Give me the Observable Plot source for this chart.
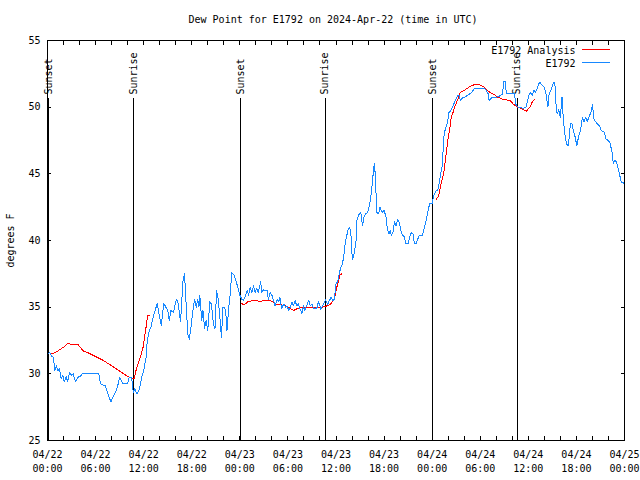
<!DOCTYPE html>
<html><head><meta charset="utf-8">
<script src="https://cdn.jsdelivr.net/npm/d3@7"></script>
<script src="https://cdn.jsdelivr.net/npm/@observablehq/plot@0.6"></script>
<style>body{margin:0;background:#fff} svg{display:block}</style>
</head><body><div id="chart"></div>
<script>
// Hours since 2024-04-22 00:00 UTC
const obsHours = [0.0,0.25,0.55,0.75,0.9,1.1,1.3,1.5,1.7,1.9,2.1,2.35,2.5,2.75,3.0,3.2,3.5,3.8,4.1,4.4,6.4,6.6,7.2,7.5,7.9,8.2,8.6,8.8,9.0,9.4,10.0,10.2,10.5,10.7,10.9,11.05,11.2,11.45,11.6,11.75,12.0,12.3,12.45,12.7,12.9,13.1,13.3,13.7,13.9,14.2,14.5,15.0,15.2,15.4,15.7,16.1,16.3,16.6,16.9,17.1,17.25,17.5,17.7,17.9,18.2,18.35,18.55,18.75,18.9,19.0,19.25,19.4,19.6,19.8,20.0,20.25,20.45,20.7,20.9,21.1,21.3,21.5,21.7,21.9,22.1,22.25,22.4,22.6,22.8,23.0,23.3,23.7,24.0,24.25,24.45,24.65,24.9,25.1,25.3,25.5,25.7,25.9,26.1,26.3,26.6,26.75,26.95,27.4,27.55,27.8,28.0,28.2,28.4,28.7,28.85,29.0,29.2,29.5,29.7,29.9,30.1,30.3,30.5,30.7,30.9,31.1,31.3,31.5,31.75,31.95,32.1,32.6,32.8,33.0,33.2,33.6,33.8,34.0,34.1,34.3,34.5,34.7,34.95,35.1,35.4,35.6,35.8,36.0,36.2,36.4,36.6,36.8,37.0,37.1,37.25,37.5,37.7,37.85,38.0,38.1,38.3,38.5,38.6,38.9,39.1,39.3,39.5,39.7,39.95,40.2,40.4,40.6,40.7,40.8,40.9,41.0,41.1,41.3,41.5,41.75,42.0,42.25,42.4,42.6,42.75,42.9,43.1,43.3,43.5,43.7,43.9,44.1,44.3,44.5,44.75,45.0,45.2,45.4,45.6,45.8,46.0,46.2,46.4,46.8,47.0,47.25,47.5,47.7,48.0,48.2,48.5,48.7,48.9,49.1,49.25,49.4,49.5,49.75,49.9,50.1,50.3,50.6,50.9,51.2,51.4,51.5,51.8,52.1,52.45,52.9,53.3,54.5,54.7,55.0,55.1,55.4,56.0,56.3,56.8,56.9,57.15,57.25,58.3,58.4,58.7,59.0,59.3,59.7,59.9,60.1,60.3,60.5,60.7,60.9,61.1,61.3,61.45,61.6,61.8,62.0,62.2,62.45,62.55,62.7,62.95,63.2,63.35,63.45,63.6,63.8,64.0,64.2,64.35,64.55,64.75,65.0,65.25,65.45,65.6,65.85,66.05,66.3,66.5,66.75,66.95,67.15,67.35,67.55,67.8,68.0,68.2,68.4,68.6,68.9,69.1,69.5,69.7,70.0,70.2,70.45,70.6,70.8,71.0,71.2,71.4,71.6,71.9];
const obsValues = [31.45,31.6,31.3,31.25,30.25,30.6,30.2,30.4,29.6,29.9,29.4,29.8,29.4,30.1,29.9,30.0,29.4,29.75,29.8,30.05,30.05,29.25,29.1,28.6,27.9,28.3,28.75,29.2,29.75,29.25,29.25,29.75,29.75,28.6,28.9,28.6,28.5,28.85,29.25,29.75,30.25,31.25,32.5,33.25,33.5,34.0,34.5,35.3,34.5,33.6,35.3,34.75,34.0,34.75,34.6,35.6,35.3,33.9,36.9,37.5,35.75,33.0,32.6,33.5,35.0,35.6,35.0,35.6,35.0,35.9,34.0,34.75,33.4,34.0,33.25,35.4,35.25,33.75,33.4,36.25,35.6,34.3,32.75,35.0,35.0,34.6,33.25,34.9,36.0,37.6,37.4,36.6,35.9,35.6,35.5,35.75,36.25,35.9,36.5,36.1,36.6,36.1,36.4,36.1,36.9,36.1,36.3,36.25,35.6,36.1,35.9,35.5,35.1,35.6,35.4,35.75,34.9,35.25,35.0,35.1,34.75,35.0,35.4,35.1,35.5,35.1,35.25,34.9,34.5,35.1,34.75,35.5,35.1,35.25,34.9,34.9,35.4,35.1,34.8,35.1,35.3,35.55,35.2,35.4,35.75,35.5,35.6,36.75,36.9,37.5,38.0,38.2,39.0,39.6,40.1,40.8,40.95,40.6,39.0,38.6,39.1,40.0,41.5,42.0,42.1,41.1,41.75,42.0,42.1,42.75,43.5,44.75,45.4,45.75,44.9,43.5,42.1,42.0,42.5,42.1,42.25,41.75,40.9,40.5,40.75,40.4,40.6,41.4,41.1,41.6,41.3,40.75,40.4,40.3,39.75,39.75,40.25,40.6,40.5,39.75,39.75,40.1,40.4,40.4,40.9,41.5,42.25,42.8,42.8,43.4,43.75,43.75,44.4,45.1,45.6,47.1,48.0,48.6,48.8,49.6,49.7,50.1,50.5,50.9,50.9,50.5,50.7,50.75,50.9,51.1,51.4,51.4,51.3,51.0,50.5,50.7,50.75,50.8,51.0,51.9,51.9,51.0,51.0,50.25,50.0,50.0,49.9,50.0,50.5,50.95,51.1,50.9,51.25,51.1,51.4,51.75,51.9,51.7,51.6,51.5,51.0,50.0,50.9,51.1,51.5,51.9,51.5,50.25,49.5,49.8,49.25,50.75,49.25,48.0,47.25,47.1,48.75,48.75,48.25,47.75,47.1,47.9,48.2,49.25,48.9,49.25,48.9,49.25,49.6,50.2,49.1,48.9,48.75,48.6,48.25,48.1,47.6,47.5,47.3,46.6,45.75,46.0,45.9,45.4,44.9,44.4,44.3];

// Analysis (null = gap between analysis runs)
const anaHours = [0.4,1.0,1.5,2.0,2.5,3.8,4.5,5.0,6.0,7.0,8.0,9.0,10.0,10.8,11.1,11.5,11.9,12.3,12.5,12.75,18,24.25,24.6,25.0,25.7,26.5,27.5,28.0,28.4,29.0,29.7,30.3,30.7,31.2,31.6,32.4,33.5,34.3,34.9,35.3,35.8,36.1,36.25,36.5,36.75,42,48.5,48.8,49.1,49.45,49.75,49.95,50.2,50.4,50.6,50.8,51.2,51.5,52.0,52.7,53.3,53.9,54.5,55.2,55.6,56.2,56.8,57.7,58.1,58.6,59.1,59.75,60.2,60.5,60.8];
const anaValues = [31.5,31.6,31.8,32.0,32.25,32.2,31.7,31.6,31.3,31.0,30.6,30.2,29.8,29.6,30.4,31.1,31.9,33.5,34.4,34.4,null,35.25,35.2,35.4,35.5,35.45,35.5,35.45,35.25,35.2,35.1,34.9,34.75,34.9,35.0,34.95,34.95,35.0,35.1,35.2,35.6,36.5,36.8,37.45,37.5,null,43.1,43.3,44.25,45.1,46.5,47.5,48.4,49.3,49.6,50.0,50.6,51.1,51.25,51.55,51.7,51.7,51.5,51.1,51.0,50.75,50.6,50.5,50.25,50.0,49.9,49.7,50.0,50.4,50.6];

const sunHours = [0.15,10.75,24.12,34.65,48.05,58.62];
const sunLabels = ["Sunset","Sunrise","Sunset","Sunrise","Sunset","Sunrise"];

const xTickHours = [0,6,12,18,24,30,36,42,48,54,60,66,72];
const xTickLabels = ["04/22\n00:00","04/22\n06:00","04/22\n12:00","04/22\n18:00","04/23\n00:00","04/23\n06:00","04/23\n12:00","04/23\n18:00","04/24\n00:00","04/24\n06:00","04/24\n12:00","04/24\n18:00","04/25\n00:00"];
const xMinorHours = d3.range(0, 73, 2);
const yTicks = [25,30,35,40,45,50,55];

const titleText = "Dew Point for E1792 on 2024-Apr-22 (time in UTC)";
const yLabel = "degrees F";
const seriesNames = ["E1792 Analysis","E1792"];
const seriesColors = ["#ff0000","#1788ff"];

const t0 = Date.UTC(2024, 3, 22);
const toDate = h => new Date(t0 + h * 3600000);

const obs = obsHours.map((h, i) => ({t: toDate(h), v: obsValues[i]}));
const ana = anaHours.map((h, i) => ({t: toDate(h), v: anaValues[i]}));
const sun = sunHours.map((h, i) => ({t: toDate(h), label: sunLabels[i]}));

const font = "DejaVu Sans Mono";
const txt = {fill: "black", fontSize: 10, fontFamily: font, lineAnchor: "middle"};

const chart = Plot.plot({
  width: 640, height: 480,
  marginLeft: 47, marginRight: 16, marginTop: 40, marginBottom: 40,
  style: {fontFamily: font, fontSize: "10px", background: "white", color: "black", shapeRendering: "crispEdges"},
  x: {type: "utc", domain: [toDate(0), toDate(72)]},
  y: {domain: [25, 55]},
  marks: [
    Plot.ruleX(sun, {x: "t", insetTop: 58, stroke: "black", strokeWidth: 1}),
    Plot.text(sun, {x: "t", text: "label", frameAnchor: "top", dy: 54, rotate: -90, textAnchor: "start", ...txt}),
    Plot.line(ana, {x: "t", y: "v", stroke: seriesColors[0], strokeWidth: 1}),
    Plot.line(obs, {x: "t", y: "v", stroke: seriesColors[1], strokeWidth: 1}),
    Plot.frame({stroke: "black", strokeWidth: 1}),
    Plot.axisY({ticks: yTicks, tickSize: 0, tickPadding: 7, label: null, fontSize: 10}),
    Plot.axisY({anchor: "left", ticks: yTicks, tickSize: -4, fill: "none", label: null}),
    Plot.axisY({anchor: "right", ticks: yTicks, tickSize: -4, fill: "none", label: null}),
    Plot.axisX({ticks: xTickHours.map(toDate), tickFormat: (d, i) => xTickLabels[i], tickSize: 0, tickPadding: 8, lineHeight: 1.4, label: null, fontSize: 10}),
    Plot.axisX({anchor: "bottom", ticks: xMinorHours.map(toDate), tickSize: -4, fill: "none", label: null}),
    Plot.axisX({anchor: "top", ticks: xMinorHours.map(toDate), tickSize: -4, fill: "none", label: null}),
    Plot.text([titleText], {frameAnchor: "top", dx: -3, dy: -21, textAnchor: "middle", ...txt}),
    Plot.text([yLabel], {frameAnchor: "left", dx: -37, rotate: -90, textAnchor: "middle", ...txt}),
    Plot.text(seriesNames, {frameAnchor: "top-right", dx: -49, dy: 10, textAnchor: "end", filter: (d, i) => i === 0, ...txt}),
    Plot.text(seriesNames, {frameAnchor: "top-right", dx: -49, dy: 23, textAnchor: "end", filter: (d, i) => i === 1, ...txt})
  ]
});
document.getElementById("chart").append(chart);

// legend line samples
const svg = d3.select(chart);
[49.5, 62.5].forEach((yy, i) => {
  svg.append("line").attr("x1", 582).attr("x2", 610).attr("y1", yy).attr("y2", yy)
    .attr("stroke", seriesColors[i]).attr("stroke-width", 1);
});
</script>
</body></html>
